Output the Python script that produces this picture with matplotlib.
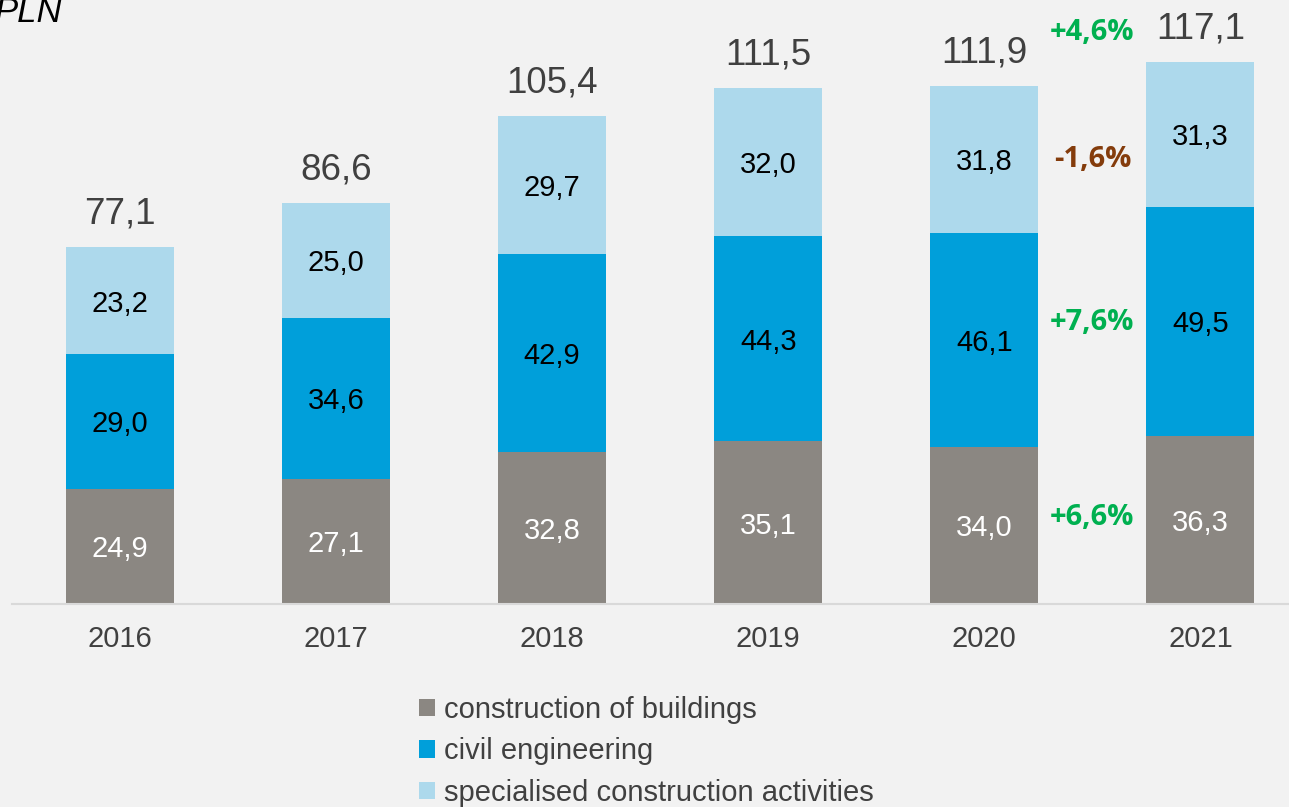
import matplotlib.pyplot as plt
import numpy as np

# data
years = ['2016', '2017', '2018', '2019', '2020', '2021']
buildings = [24.9, 27.1, 32.8, 35.1, 34.0, 36.3]
civil = [29.0, 34.6, 42.9, 44.3, 46.1, 49.5]
specialised = [23.2, 25.0, 29.7, 32.0, 31.8, 31.3]
totals = [77.1, 86.6, 105.4, 111.5, 111.9, 117.1]
series_names = ['construction of buildings', 'civil engineering',
                'specialised construction activities']
changes = ['+6,6%', '+7,6%', '-1,6%', '+4,6%']
change_colors = ['#00B050', '#00B050', '#843C0C', '#00B050']

# style
plt.rcParams['font.family'] = ['Liberation Sans', 'DejaVu Sans']
bg = '#F2F2F2'
colors = ['#8B8782', '#009FDA', '#ADD9EC']
label_colors = ['white', 'black', 'black']
text_gray = '#404040'


def fmt(v):
    return ('%.1f' % v).replace('.', ',')


fig = plt.figure(figsize=(12.89, 8.07), dpi=100, facecolor=bg)
ax = fig.add_axes([12 / 1289, 1 - 604 / 807, 1 - 12 / 1289, 604 / 807])
ax.set_facecolor(bg)

x = np.arange(len(years))
width = 0.5
bottom = np.zeros(len(years))
layers = [buildings, civil, specialised]
handles = []
for vals, c, lc, name in zip(layers, colors, label_colors, series_names):
    vals = np.array(vals)
    b = ax.bar(x, vals, width, bottom=bottom, color=c, label=name)
    handles.append(b)
    for xi, v, bt in zip(x, vals, bottom):
        ax.annotate(fmt(v), (xi, bt + v / 2), xytext=(0, -2),
                    textcoords='offset points', ha='center', va='center',
                    fontsize=21, color=lc)
    bottom += vals

for xi, t in zip(x, totals):
    ax.annotate(fmt(t), (xi, t), xytext=(0, 11), textcoords='offset points',
                ha='center', va='bottom', fontsize=26.5, color=text_gray)

# year-on-year changes 2020 -> 2021, placed beside the 2020 bar parts
last = len(years) - 1
b0, c0, s0 = buildings[last - 1], civil[last - 1], specialised[last - 1]
change_y = [b0 * 0.55, b0 + c0 * 0.58, b0 + c0 + s0 * 0.5,
            totals[last - 1] + 11.6]
for ch, cc, yv in zip(changes, change_colors, change_y):
    ax.text(last - 0.5, yv, ch, ha='center', va='center', fontsize=21,
            fontweight='bold', color=cc, family='Open Sans')

ax.set_xlim(-0.5, 5.41)
ax.set_ylim(0, 604 / 4.63)
ax.set_xticks(x)
ax.set_xticklabels(years, fontsize=21, color=text_gray)
ax.tick_params(axis='x', length=0, pad=15)
ax.set_yticks([])
for s in ['top', 'right', 'left']:
    ax.spines[s].set_visible(False)
ax.spines['bottom'].set_color('#D9D9D9')
ax.spines['bottom'].set_linewidth(1.5)

fig.text(-5 / 1289, 1 - 12 / 807, 'PLN', fontsize=25, style='italic',
         ha='left', va='center', color='black')

leg = fig.legend(handles=handles, loc='upper left',
                 bbox_to_anchor=(419 / 1289, 1 - 696 / 807),
                 frameon=False, fontsize=21, handlelength=0.55,
                 handleheight=0.55, handletextpad=0.3, labelspacing=0.46,
                 borderpad=0, borderaxespad=0)
for t in leg.get_texts():
    t.set_color(text_gray)

plt.savefig('out.png', dpi=100, facecolor=bg)
plt.close()
